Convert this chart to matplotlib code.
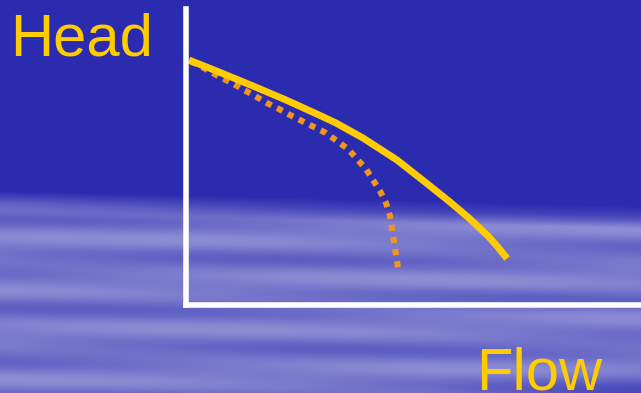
import numpy as np
import matplotlib
matplotlib.use("Agg")
from matplotlib import pyplot as plt

# pump curves (flow, head in arbitrary units)
flow_full = [0.3, 3.3, 6.7, 10.0, 13.3, 15.0, 17.7, 21.1, 23.9, 26.4, 28.4, 30.2,
             31.1, 32.1]
head_full = [24.45, 23.25, 21.85, 20.45, 18.95, 18.15, 16.65, 14.45, 12.25, 10.25,
             8.55, 6.85, 5.85, 4.6]

flow_cut = [0.5, 1.1, 2.3, 3.4, 4.6, 5.8, 6.9, 8.1, 9.3, 10.4, 11.6, 12.8, 14.0,
            15.1, 16.2, 17.1, 18.0, 18.7, 19.4, 20.0, 20.4, 20.6, 20.8, 21.0, 21.2]
head_cut = [24.25, 24.05, 23.35, 22.75, 22.15, 21.45, 20.85, 20.15, 19.55, 18.95,
            18.35, 17.75, 17.15, 16.35, 15.55, 14.55, 13.55, 12.45, 11.35, 10.15,
            8.85, 7.55, 6.25, 4.95, 3.65]

W, H = 641, 393
fig = plt.figure(figsize=(W / 100, H / 100), dpi=100)

# cloudy blue backdrop
bg = fig.add_axes([0, 0, 1, 1])
yy, xx = np.mgrid[0:H, 0:W].astype(float)
env = np.clip((yy - 190 - 0.025 * xx) / 22, 0, 1)
wave = (0.5 + 0.5 * np.sin(2 * np.pi * (yy + 0.02 * xx) / 46)) * 0.6 \
    + (0.5 + 0.5 * np.sin(2 * np.pi * (yy - 0.04 * xx) / 29 + 1.3)) * 0.4
light = env * (0.45 + 0.42 * wave)
light *= 1 - 0.45 * np.clip((yy - 365) / 28, 0, 1) * np.clip((xx - 430) / 200, 0, 1)
dark = np.array([43, 43, 176]) / 255
pale = np.array([156, 156, 218]) / 255
img = dark[None, None, :] * (1 - light[..., None]) + pale[None, None, :] * light[..., None]
bg.imshow(img, aspect="auto", extent=(0, W, H, 0))
bg.set_xlim(0, W)
bg.set_ylim(H, 0)
bg.axis("off")

# chart axes, origin at the white corner
ax = fig.add_axes([186 / W, (H - 304.5) / H, (W - 186) / W, (304.5 - 9) / H])
ax.patch.set_alpha(0)
ax.set_xlim(0, 45.5)
ax.set_ylim(0, 29.55)
for s in ["top", "right"]:
    ax.spines[s].set_visible(False)
for s in ["left", "bottom"]:
    ax.spines[s].set_color("white")
    ax.spines[s].set_linewidth(4)
ax.set_xticks([])
ax.set_yticks([])

ax.plot(flow_cut, head_cut, color="#F0961E", lw=4.4, linestyle=(0, (1.0, 1.0)),
        dash_capstyle="butt")
ax.plot(flow_full, head_full, color="#FFCC00", lw=5, solid_capstyle="butt",
        solid_joinstyle="round")

fig.text(10 / W, 1 - 55 / H, "Head", fontsize=43, color="#FFCC00",
         family="Liberation Sans", ha="left", va="baseline")
fig.text(476 / W, 1 - 389 / H, "Flow", fontsize=43, color="#FFCC00",
         family="Liberation Sans", ha="left", va="baseline")

fig.savefig("out.png", dpi=100)
